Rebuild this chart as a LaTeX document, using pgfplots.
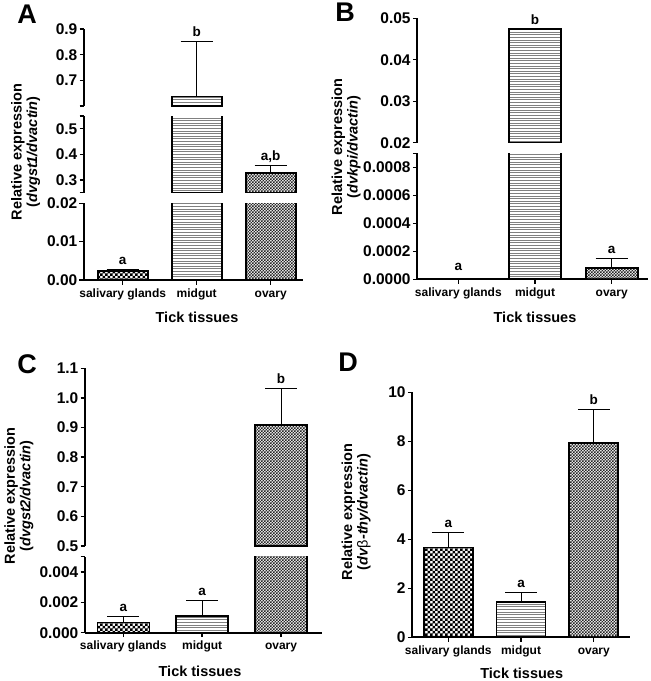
\documentclass[border=0pt]{standalone}
\usepackage{fontspec}
\setmainfont{Liberation Sans}
\usepackage{pgfplots}
\pgfplotsset{compat=1.18}
\usetikzlibrary{patterns}

% fills of the three tissues
\pgfdeclarepatternformonly{salcheck}{\pgfqpoint{-0.1pt}{-0.1pt}}{\pgfqpoint{5.1pt}{5.1pt}}{\pgfqpoint{5pt}{5pt}}{%
  \pgfpathrectangle{\pgfpointorigin}{\pgfqpoint{2.5pt}{2.5pt}}%
  \pgfpathrectangle{\pgfqpoint{2.5pt}{2.5pt}}{\pgfqpoint{2.5pt}{2.5pt}}%
  \pgfusepath{fill}}
\pgfdeclarepatternformonly{midlines}{\pgfqpoint{-1pt}{-1pt}}{\pgfqpoint{3.6pt}{3.6pt}}{\pgfqpoint{2.6pt}{2.6pt}}{%
  \pgfsetlinewidth{1pt}%
  \pgfpathmoveto{\pgfqpoint{-1pt}{1.3pt}}\pgfpathlineto{\pgfqpoint{3.6pt}{1.3pt}}%
  \pgfusepath{stroke}}
\pgfdeclarepatternformonly{ovcheck}{\pgfqpoint{-0.1pt}{-0.1pt}}{\pgfqpoint{3.1pt}{3.1pt}}{\pgfqpoint{3pt}{3pt}}{%
  \pgfpathrectangle{\pgfpointorigin}{\pgfqpoint{1.5pt}{1.5pt}}%
  \pgfpathrectangle{\pgfqpoint{1.5pt}{1.5pt}}{\pgfqpoint{1.5pt}{1.5pt}}%
  \pgfusepath{fill}}

\pgfplotsset{
  common/.style={scale only axis, anchor=south west,
    axis y line*=left,
    every outer y axis line/.append style={-}, every outer x axis line/.append style={-},
    axis line style={-, line width=1.8pt},
    enlargelimits=false, clip=true, scaled y ticks=false,
    tick align=outside, major tick length=4.5pt,
    tick style={line width=1.4pt, black},
    yticklabel style={font=\fontsize{15.5}{16}\selectfont\bfseries, inner xsep=2pt},
    /pgf/number format/assume math mode=true},
  seg/.style={common, axis x line=none},
  base/.style={common, axis x line*=bottom,
    xtick={0,1,2}, xticklabels={salivary glands,midgut,ovary},
    xticklabel style={font=\fontsize{12}{13}\selectfont\bfseries,
      text height=9pt, text depth=2.5pt}},
  bar/.style={ybar, bar shift=0pt, draw=black, line width=1.6pt},
  sal/.style={bar, pattern=salcheck, pattern color=black},
  mid/.style={bar, pattern=midlines, pattern color=black!50},
  ova/.style={bar, pattern=ovcheck, pattern color=black!85},
  eb/.style={error bars/y dir=plus, error bars/y explicit,
    error bars/error mark=|,
    error bars/error bar style={line width=0.9pt, black},
    error bars/error mark options={line width=0.9pt, black, mark size=16pt}},
}
\tikzset{
  lab/.style={font=\fontsize{13.5}{13.5}\selectfont\bfseries, anchor=base, yshift=5pt},
  ylab/.style={rotate=90, align=center, font=\fontsize{14.5}{15.5}\selectfont\bfseries},
  xlab/.style={font=\fontsize{14.5}{15}\selectfont\bfseries},
  plab/.style={font=\fontsize{27}{27}\selectfont\bfseries},
}

\begin{document}
\begin{tikzpicture}
\useasboundingbox (0,0) rectangle (651pt,-681pt);

% ---------------- A ----------------
\begin{axis}[seg, at={(84pt,-106pt)}, width=219pt, height=77pt,
  xmin=-0.523, xmax=2.436, ymin=0.6, ymax=0.9,
  ytick={0.7,0.8,0.9}, yticklabels={0.7,0.8,0.9},
  extra y ticks={0.6}, extra y tick labels={}]
\addplot[mid, bar width=50pt, eb] coordinates {(1,0.637) +- (0,0.214)};
\coordinate (Ab) at (axis cs:1,0.851);
\end{axis}
\begin{axis}[seg, at={(84pt,-192.7pt)}, width=219pt, height=76.7pt,
  xmin=-0.523, xmax=2.436, ymin=0.25, ymax=0.55,
  ytick={0.3,0.4,0.5}, yticklabels={0.3,0.4,0.5},
  extra y ticks={0.25,0.55}, extra y tick labels={}]
\addplot[mid, bar width=50pt] coordinates {(1,0.637)};
\addplot[ova, bar width=50pt, eb] coordinates {(2,0.326) +- (0,0.032)};
\coordinate (Ac) at (axis cs:2,0.358);
\end{axis}
\begin{axis}[base, at={(84pt,-280pt)}, width=219pt, height=76.7pt,
  xmin=-0.523, xmax=2.436, ymin=0, ymax=0.02,
  ytick={0,0.01,0.02}, yticklabels={0.00,0.01,0.02}]
\addplot[sal, bar width=50pt, eb] coordinates {(0,0.0024) +- (0,0.0003)};
\addplot[mid, bar width=50pt] coordinates {(1,0.637)};
\addplot[ova, bar width=50pt] coordinates {(2,0.326)};
\coordinate (Aa) at (axis cs:0,0.0027);
\end{axis}

% ---------------- B ----------------
\begin{axis}[seg, at={(417.3pt,-142.7pt)}, width=230.7pt, height=124.4pt,
  xmin=-0.535, xmax=2.473, ymin=0.02, ymax=0.05,
  ytick={0.02,0.03,0.04,0.05}, yticklabels={0.02,0.03,0.04,0.05}]
\addplot[mid, bar width=52pt] coordinates {(1,0.0474)};
\coordinate (Bb) at (axis cs:1,0.0474);
\end{axis}
\begin{axis}[base, at={(417.3pt,-279.3pt)}, width=230.7pt, height=126pt,
  xmin=-0.535, xmax=2.473, ymin=0, ymax=0.0009,
  ytick={0,0.0002,0.0004,0.0006,0.0008},
  yticklabels={0.0000,0.0002,0.0004,0.0006,0.0008},
  extra y ticks={0.0009}, extra y tick labels={}]
\addplot[sal, bar width=52pt] coordinates {(0,0.000002)};
\addplot[mid, bar width=52pt] coordinates {(1,0.0474)};
\addplot[ova, bar width=52pt, eb] coordinates {(2,0.000082) +- (0,0.000067)};
\coordinate (Ba) at (axis cs:0,0.00003);
\coordinate (Bc) at (axis cs:2,0.000149);
\end{axis}

% ---------------- C ----------------
\begin{axis}[seg, at={(85pt,-546pt)}, width=236.7pt, height=177.7pt,
  xmin=-0.486, xmax=2.516, ymin=0.5, ymax=1.1,
  ytick={0.5,0.6,0.7,0.8,0.9,1.0,1.1},
  yticklabels={0.5,0.6,0.7,0.8,0.9,1.0,1.1}]
\addplot[ova, bar width=52pt, eb] coordinates {(2,0.909) +- (0,0.122)};
\coordinate (Cc) at (axis cs:2,1.031);
\end{axis}
\begin{axis}[base, at={(85pt,-632.7pt)}, width=236.7pt, height=76pt,
  xmin=-0.486, xmax=2.516, ymin=0, ymax=0.005,
  ytick={0,0.002,0.004}, yticklabels={0.000,0.002,0.004},
  extra y ticks={0.005}, extra y tick labels={}]
\addplot[sal, bar width=52pt, eb] coordinates {(0,0.00066) +- (0,0.00039)};
\addplot[mid, bar width=52pt, eb] coordinates {(1,0.0011) +- (0,0.001)};
\addplot[ova, bar width=52pt] coordinates {(2,0.909)};
\coordinate (Ca) at (axis cs:0,0.00105);
\coordinate (Cb) at (axis cs:1,0.0021);
\end{axis}

% ---------------- D ----------------
\begin{axis}[base, at={(412.3pt,-637.3pt)}, width=217.7pt, height=245pt,
  xmin=-0.495, xmax=2.498, ymin=0, ymax=10,
  ytick={0,2,4,6,8,10}, yticklabels={0,2,4,6,8,10}]
\addplot[sal, bar width=49pt, eb] coordinates {(0,3.67) +- (0,0.6)};
\addplot[mid, bar width=49pt, eb] coordinates {(1,1.45) +- (0,0.39)};
\addplot[ova, bar width=49pt, eb] coordinates {(2,7.94) +- (0,1.34)};
\coordinate (Da) at (axis cs:0,4.27);
\coordinate (Db) at (axis cs:1,1.84);
\coordinate (Dc) at (axis cs:2,9.28);
\end{axis}

% significance letters
\node[lab] at (Aa) {a};
\node[lab] at (Ab) {b};
\node[lab] at (Ac) {a,b};
\node[lab] at (Ba) {a};
\node[lab] at (Bb) {b};
\node[lab] at (Bc) {a};
\node[lab] at (Ca) {a};
\node[lab] at (Cb) {a};
\node[lab] at (Cc) {b};
\node[lab] at (Da) {a};
\node[lab] at (Db) {a};
\node[lab] at (Dc) {b};

% axis titles
\node[ylab] at (25.7pt,-152pt) {Relative expression\\(\textit{dvgst1/dvactin})};
\node[ylab] at (346pt,-147pt) {Relative expression\\(\textit{dvkpi/dvactin})};
\node[ylab] at (19pt,-496pt) {Relative expression\\(\textit{dvgst2/dvactin})};
\node[ylab] at (356pt,-512pt) {Relative expression\\(\textit{dv}{\mdseries β}\textit{-thy/dvactin})};
\node[xlab] at (197pt,-317pt) {Tick tissues};
\node[xlab] at (535pt,-317pt) {Tick tissues};
\node[xlab] at (200pt,-671pt) {Tick tissues};
\node[xlab] at (521.7pt,-673pt) {Tick tissues};

% panel letters
\node[plab] at (27pt,-14pt) {A};
\node[plab] at (345pt,-12pt) {B};
\node[plab] at (27pt,-364pt) {C};
\node[plab] at (348pt,-362pt) {D};
\end{tikzpicture}
\end{document}
